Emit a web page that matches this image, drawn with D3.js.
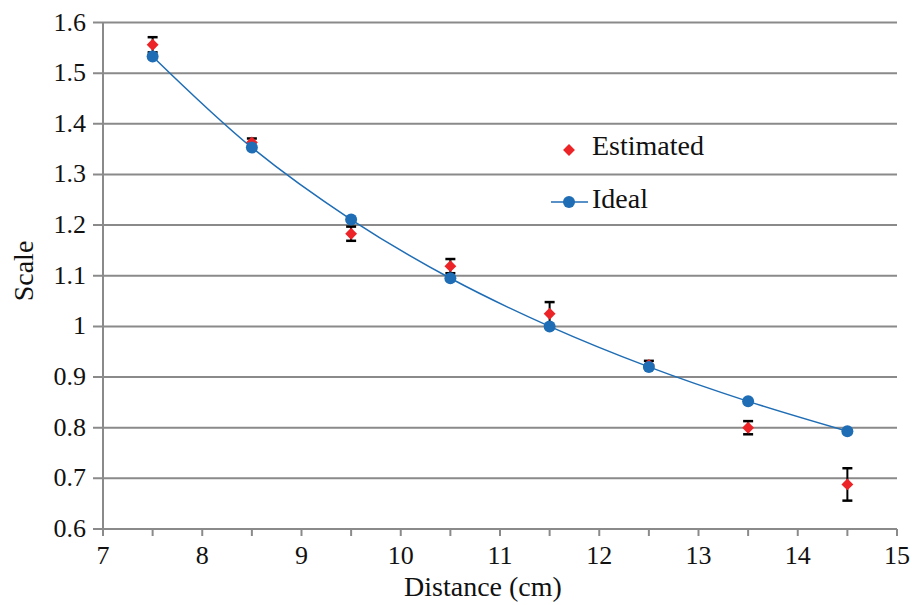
<!DOCTYPE html>
<html>
<head>
<meta charset="utf-8">
<script src="https://cdn.jsdelivr.net/npm/d3@7"></script>
<style>
  body { margin: 0; background: #fff; }
</style>
</head>
<body>
<svg id="plot" width="912" height="605"></svg>
<script>
const distances = [7.5, 8.5, 9.5, 10.5, 11.5, 12.5, 13.5, 14.5]
const ideal = [1.533, 1.353, 1.211, 1.095, 1.0, 0.920, 0.852, 0.793]
const estimated = [1.556, 1.363, 1.183, 1.119, 1.025, 0.924, 0.800, 0.688]
const estErr = [0.015, 0.008, 0.014, 0.014, 0.023, 0.008, 0.013, 0.032]
const yTicks = [0.6, 0.7, 0.8, 0.9, 1.0, 1.1, 1.2, 1.3, 1.4, 1.5, 1.6]
const xTicks = [7, 8, 9, 10, 11, 12, 13, 14, 15]

const FONT = '"Liberation Serif", "Times New Roman", Tinos, serif'
const svg = d3.select('#plot')
const x = d3.scaleLinear().domain([7, 15]).range([103, 897])
const y = d3.scaleLinear().domain([0.6, 1.6]).range([529, 22.5])
const grid = '#8a8a8a'

function label(sel, size) {
  sel.attr('font-family', FONT)
    .style('font-family', FONT)
    .attr('font-size', size)
    .attr('fill', '#111')
}

// horizontal gridlines with left tick stubs
svg.append('g').selectAll('line')
  .data(yTicks).enter().append('line')
  .attr('x1', 93).attr('x2', x(15))
  .attr('y1', d => y(d)).attr('y2', d => y(d))
  .attr('stroke', grid).attr('stroke-width', 2)

svg.append('g').selectAll('text')
  .data(yTicks).enter().append('text')
  .attr('x', 86).attr('y', d => y(d) + 8)
  .attr('text-anchor', 'end')
  .call(label, 26)
  .text(d => d === 1 ? '1' : d3.format('.1f')(d))

// vertical axis line
svg.append('line')
  .attr('x1', x(7)).attr('x2', x(7))
  .attr('y1', y(1.6)).attr('y2', y(0.6) + 7)
  .attr('stroke', grid).attr('stroke-width', 2)

// x ticks every 0.5
svg.append('g').selectAll('line')
  .data(d3.range(7, 15.01, 0.5)).enter().append('line')
  .attr('x1', d => x(d)).attr('x2', d => x(d))
  .attr('y1', y(0.6)).attr('y2', y(0.6) + 7)
  .attr('stroke', grid).attr('stroke-width', 2)

svg.append('g').selectAll('text')
  .data(xTicks).enter().append('text')
  .attr('x', d => x(d)).attr('y', 564)
  .attr('text-anchor', 'middle')
  .call(label, 26)
  .text(d => d)

svg.append('text')
  .attr('x', 483).attr('y', 596)
  .attr('text-anchor', 'middle')
  .call(label, 28)
  .text('Distance (cm)')

svg.append('text')
  .attr('transform', 'translate(33,271) rotate(-90)')
  .attr('text-anchor', 'middle')
  .call(label, 28)
  .text('Scale')

// error bars
const eb = svg.append('g').attr('stroke', '#000').attr('stroke-width', 2)
distances.forEach((d, i) => {
  const top = y(estimated[i] + estErr[i]), bot = y(estimated[i] - estErr[i])
  eb.append('line').attr('x1', x(d)).attr('x2', x(d)).attr('y1', top).attr('y2', bot)
  eb.append('line').attr('x1', x(d) - 5).attr('x2', x(d) + 5).attr('y1', top).attr('y2', top).attr('stroke-width', 2.5)
  eb.append('line').attr('x1', x(d) - 5).attr('x2', x(d) + 5).attr('y1', bot).attr('y2', bot).attr('stroke-width', 2.5)
})

// estimated diamonds
const diamond = d3.symbol().type(d3.symbolDiamond2).size(90)
svg.append('g').selectAll('path')
  .data(distances).enter().append('path')
  .attr('d', diamond)
  .attr('transform', (d, i) => `translate(${x(d)},${y(estimated[i])})`)
  .attr('fill', '#ec2427')

// ideal curve + points
const line = d3.line().curve(d3.curveCatmullRom)
  .x(d => x(d)).y((d, i) => y(ideal[i]))
svg.append('path').datum(distances)
  .attr('d', line).attr('fill', 'none')
  .attr('stroke', '#1f6db5').attr('stroke-width', 1.5)

svg.append('g').selectAll('circle')
  .data(distances).enter().append('circle')
  .attr('cx', d => x(d)).attr('cy', (d, i) => y(ideal[i]))
  .attr('r', 6).attr('fill', '#1f6db5')

// legend
svg.append('path').attr('d', diamond)
  .attr('transform', 'translate(569,150)').attr('fill', '#ec2427')
svg.append('text').attr('x', 592).attr('y', 155)
  .call(label, 28).text('Estimated')
svg.append('line').attr('x1', 551).attr('x2', 588).attr('y1', 202).attr('y2', 202)
  .attr('stroke', '#1f6db5').attr('stroke-width', 1.5)
svg.append('circle').attr('cx', 569).attr('cy', 202).attr('r', 6).attr('fill', '#1f6db5')
svg.append('text').attr('x', 592).attr('y', 208)
  .call(label, 28).text('Ideal')
</script>
</body>
</html>
